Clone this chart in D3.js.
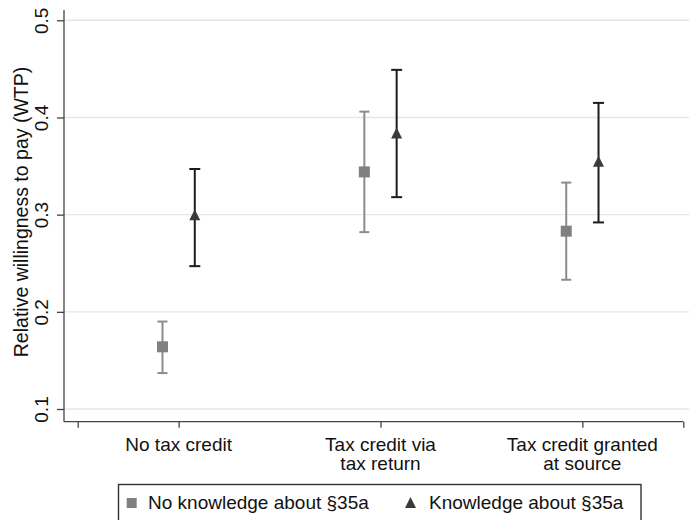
<!DOCTYPE html>
<html>
<head>
<meta charset="utf-8">
<script src="https://cdn.jsdelivr.net/npm/d3@7"></script>
<style>
  html, body { margin: 0; padding: 0; background: #fff; }
  svg { display: block; font-family: "Liberation Sans", Arial, Helvetica, sans-serif; }
</style>
</head>
<body>
<svg id="chart" width="689" height="520"></svg>
<script>
// Categories (two-line labels) and the two groups with 95% intervals
const categories = [["No tax credit"], ["Tax credit via", "tax return"], ["Tax credit granted", "at source"]];
const noKnowMean = [0.164, 0.344, 0.283];
const noKnowLow  = [0.137, 0.282, 0.233];
const noKnowHigh = [0.190, 0.406, 0.333];
const knowMean   = [0.300, 0.384, 0.355];
const knowLow    = [0.247, 0.318, 0.292];
const knowHigh   = [0.347, 0.449, 0.415];
const yTicks = [0.1, 0.2, 0.3, 0.4, 0.5];
const xTicks = [0.5, 1, 2, 3, 3.5];
const legendLabels = ["No knowledge about §35a", "Knowledge about §35a"];
const yTitle = "Relative willingness to pay (WTP)";

const svg = d3.select("#chart");
const W = 689;
const FS = 19;

const x = d3.scaleLinear().domain([0.5, 3.5]).range([77.7, 683.3]);
const y = d3.scaleLinear().domain([0.1, 0.5]).range([409, 20.3]);
const plotLeft = 64, plotBottom = 421.7, plotTop = 10;

// horizontal gridlines
svg.append("g").selectAll("line").data(yTicks).join("line")
  .attr("x1", plotLeft).attr("x2", W)
  .attr("y1", d => y(d)).attr("y2", d => y(d))
  .attr("stroke", "#e6e6e6").attr("stroke-width", 1.4);

// y axis
const yAxis = d3.axisLeft(y).tickValues(yTicks).tickSize(7).tickFormat(d3.format(".1f"));
const gy = svg.append("g").attr("transform", `translate(${plotLeft},0)`).call(yAxis);
gy.select(".domain").remove();
gy.selectAll(".tick line").attr("stroke", "#444").attr("stroke-width", 1.3);
gy.selectAll(".tick text")
  .attr("x", null).attr("dy", null)
  .attr("transform", "translate(-16,0) rotate(-90)")
  .attr("text-anchor", "middle")
  .attr("font-size", FS).attr("fill", "#111");
svg.append("line").attr("x1", plotLeft).attr("x2", plotLeft)
  .attr("y1", plotTop).attr("y2", plotBottom)
  .attr("stroke", "#444").attr("stroke-width", 1.3);

// x axis
const xAxis = d3.axisBottom(x).tickValues(xTicks).tickSize(6).tickFormat("");
const gx = svg.append("g").attr("transform", `translate(0,${plotBottom})`).call(xAxis);
gx.select(".domain").remove();
gx.selectAll(".tick line").attr("stroke", "#444").attr("stroke-width", 1.3);
svg.append("line").attr("x1", plotLeft).attr("x2", x(3.5))
  .attr("y1", plotBottom).attr("y2", plotBottom)
  .attr("stroke", "#444").attr("stroke-width", 1.3);

// category labels
categories.forEach((lines, i) => {
  const t = svg.append("text").attr("x", x(i + 1)).attr("y", 451)
    .attr("text-anchor", "middle").attr("font-size", FS).attr("fill", "#111");
  lines.forEach((l, j) => t.append("tspan").attr("x", x(i + 1)).attr("dy", j ? 19 : 0).text(l));
});

// y title
svg.append("text")
  .attr("transform", "translate(28,212) rotate(-90)")
  .attr("text-anchor", "middle").attr("font-size", 19.5).attr("fill", "#111")
  .text(yTitle);

// error bars and markers
const off = 0.08;
function drawSeries(mean, lo, hi, dx, barColor, capW) {
  const g = svg.append("g");
  const idx = d3.range(mean.length);
  g.selectAll("line.v").data(idx).join("line")
    .attr("x1", i => x(i + 1 + dx)).attr("x2", i => x(i + 1 + dx))
    .attr("y1", i => y(lo[i])).attr("y2", i => y(hi[i]))
    .attr("stroke", barColor).attr("stroke-width", 2);
  [lo, hi].forEach(arr => {
    g.selectAll(null).data(idx).join("line")
      .attr("x1", i => x(i + 1 + dx) - capW / 2).attr("x2", i => x(i + 1 + dx) + capW / 2)
      .attr("y1", i => y(arr[i])).attr("y2", i => y(arr[i]))
      .attr("stroke", barColor).attr("stroke-width", 2);
  });
  return g;
}
const gNo = drawSeries(noKnowMean, noKnowLow, noKnowHigh, -off, "#8c8c8c", 10);
const gYes = drawSeries(knowMean, knowLow, knowHigh, off, "#1c1c1c", 11);

const sq = 11;
gNo.selectAll("rect").data(noKnowMean).join("rect")
  .attr("x", (d, i) => x(i + 1 - off) - sq / 2).attr("y", d => y(d) - sq / 2)
  .attr("width", sq).attr("height", sq).attr("fill", "#808080");

function triPath(cx, cy, s) {
  const h = s;
  return `M${cx},${cy - h / 2} L${cx + s / 2},${cy + h / 2} L${cx - s / 2},${cy + h / 2} Z`;
}
gYes.selectAll("path").data(knowMean).join("path")
  .attr("d", (d, i) => triPath(x(i + 1 + off), y(d), 11))
  .attr("fill", "#3a3a3a");

// legend
const lg = svg.append("g");
lg.append("rect").attr("x", 118.5).attr("y", 484.5).attr("width", 522.5).attr("height", 40)
  .attr("fill", "#fff").attr("stroke", "#333").attr("stroke-width", 1.4);
lg.append("rect").attr("x", 126.7).attr("y", 498).attr("width", 10).attr("height", 10).attr("fill", "#808080");
lg.append("text").attr("x", 148).attr("y", 509).attr("font-size", FS).attr("fill", "#111").text(legendLabels[0]);
lg.append("path").attr("d", triPath(410.5, 502.5, 11)).attr("fill", "#3a3a3a");
lg.append("text").attr("x", 429).attr("y", 509).attr("font-size", FS).attr("fill", "#111").text(legendLabels[1]);
</script>
</body>
</html>
